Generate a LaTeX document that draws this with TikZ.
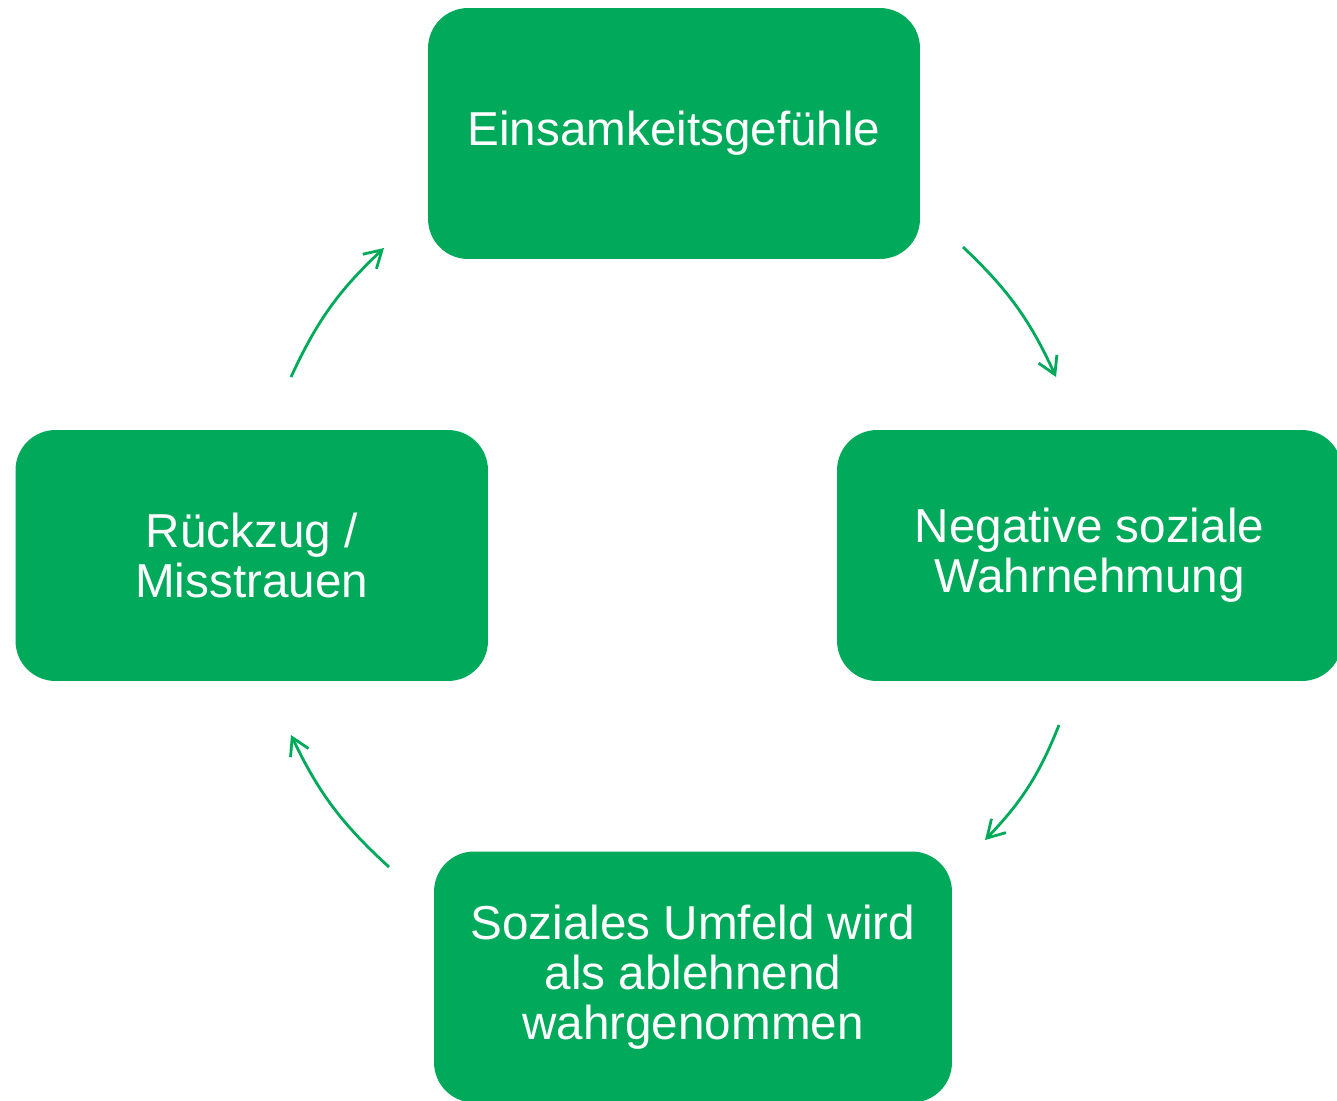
\documentclass[tikz,border=0pt]{standalone}
\usepackage{fontspec}
\setmainfont{Liberation Sans}
\usetikzlibrary{arrows.meta,positioning}
\definecolor{cyclegreen}{RGB}{0,170,90}

\begin{document}
\begin{tikzpicture}[x=0.02cm, y=-0.02cm,
    phase/.style={fill=cyclegreen, rounded corners=0.8cm, text=white, align=center,
      minimum height=5.02cm, inner sep=0pt, font=\fontsize{27.1}{28.45}\selectfont},
    cyclearrow/.style={->, cyclegreen, line width=1.6pt, bend left=11},
    >={Straight Barb[length=3.4mm,width=4mm]}]
    \useasboundingbox (0,0) rectangle (1337,1100);

    % The four phases of the cycle
    \node[phase, minimum width=9.84cm] (gefuehl) at (674,133.5) {Einsamkeitsgefühle};
    \node[phase, minimum width=10.1cm] (wahrnehmung) at (1089.5,555.5) {Negative soziale\\Wahrnehmung};
    \node[phase, minimum width=10.36cm] (umfeld) at (693,977) {Soziales Umfeld wird\\als ablehnend\\wahrgenommen};
    \node[phase, minimum width=9.45cm] (rueckzug) at (251.75,555.5) {Rückzug /\\Misstrauen};

    % Arrow ends in the gaps between the boxes
    \coordinate (a1s) at (963,247);  \coordinate (a1e) at (1056,377);
    \coordinate (a2s) at (1059,725); \coordinate (a2e) at (985,840);
    \coordinate (a3s) at (389,867);  \coordinate (a3e) at (291,735);
    \coordinate (a4s) at (291,377);  \coordinate (a4e) at (384,248);

    \draw[cyclearrow] (a1s) to (a1e);
    \draw[cyclearrow] (a2s) to (a2e);
    \draw[cyclearrow] (a3s) to (a3e);
    \draw[cyclearrow] (a4s) to (a4e);
\end{tikzpicture}
\end{document}
